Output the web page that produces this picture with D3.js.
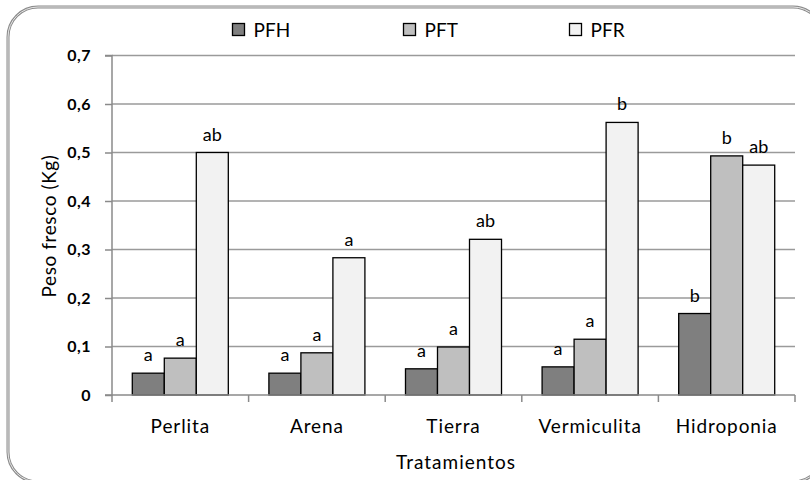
<!DOCTYPE html>
<html><head><meta charset="utf-8">
<script src="https://cdn.jsdelivr.net/npm/d3@7/dist/d3.min.js"></script>
<style>body{margin:0;background:#fff}svg{display:block;font-family:Lato,"Open Sans",sans-serif}</style>
</head><body><svg id="c" width="810" height="480"></svg>
<script>
const categories = ["Perlita","Arena","Tierra","Vermiculita","Hidroponia"];
const series = ["PFH","PFT","PFR"];
const PFH = [0.045,0.045,0.054,0.058,0.168];
const PFT = [0.076,0.087,0.099,0.115,0.493];
const PFR = [0.500,0.283,0.321,0.562,0.474];
const lettersPFH = ["a","a","a","a","b"];
const lettersPFT = ["a","a","a","a","b"];
const lettersPFR = ["ab","a","ab","b","ab"];
const yTicks = [0,0.1,0.2,0.3,0.4,0.5,0.6,0.7];
const yTickLabels = ["0","0,1","0,2","0,3","0,4","0,5","0,6","0,7"];
const colors = ["#7f7f7f","#bfbfbf","#f2f2f2"];

const values = [PFH,PFT,PFR];
const letters = [lettersPFH,lettersPFT,lettersPFR];
const svg = d3.select("#c");

// frame
svg.append("rect").attr("x",8).attr("y",7).attr("width",815).attr("height",475).attr("rx",30)
  .attr("fill","none").attr("stroke","#8a8a8a").attr("stroke-width",3);
svg.append("rect").attr("x",8).attr("y",7).attr("width",815).attr("height",475).attr("rx",30)
  .attr("fill","none").attr("stroke","#e8e8e8").attr("stroke-width",1);

const L=112,R=795,T=55.5,B=395;
const x = d3.scaleBand().domain(categories).range([L,R]).paddingInner(0).paddingOuter(0);
const xs = d3.scaleBand().domain(series).range([0,x.bandwidth()]).paddingInner(0).paddingOuter(0.634);
const y = d3.scaleLinear().domain([0,0.7]).range([B,T]);

const g = svg.append("g");
// grid
g.selectAll("line.grid").data(yTicks.slice(1)).join("line")
  .attr("x1",L).attr("x2",R).attr("y1",d=>y(d)).attr("y2",d=>y(d))
  .attr("stroke","#9a9a9a").attr("stroke-width",1.5);
// y axis
const yAxis = d3.axisLeft(y).tickValues(yTicks).tickFormat((d,i)=>yTickLabels[i]).tickSize(7).tickPadding(14);
const ya = svg.append("g").attr("transform",`translate(${L},0)`).call(yAxis);
ya.select(".domain").attr("stroke","#8a8a8a").attr("stroke-width",1.5).attr("d",`M-7,${T}H0V${B}H-7`);
ya.selectAll(".tick line").attr("stroke","#8a8a8a").attr("stroke-width",1.5);
ya.selectAll(".tick text").attr("font-size",16).attr("font-weight","bold").attr("fill","#000")
  .attr("font-family","Lato,sans-serif").attr("letter-spacing",0.5);

// bars
categories.forEach((c,ci)=>{
  series.forEach((s,si)=>{
    const v = values[si][ci];
    const bx = x(c)+xs(s);
    g.append("rect").attr("x",bx).attr("y",y(v)).attr("width",xs.bandwidth()).attr("height",B-y(v))
      .attr("fill",colors[si]).attr("stroke","#000").attr("stroke-width",1.3);
    g.append("text").attr("x",bx+xs.bandwidth()/2).attr("y",y(v)-12).attr("text-anchor","middle")
      .attr("font-size",18).attr("fill","#000").text(letters[si][ci]);
  });
});

// x axis
const xAxis = d3.axisBottom(x).tickSize(0).tickPadding(25);
const xa = svg.append("g").attr("transform",`translate(0,${B})`).call(xAxis);
xa.select(".domain").attr("stroke","#8a8a8a").attr("stroke-width",1.5).attr("d",`M${L},0H${R}`);
xa.selectAll(".tick text").attr("font-size",19).attr("fill","#000").attr("font-family","Lato,sans-serif").attr("letter-spacing",0.9);
const bounds = categories.map(c=>x(c)).concat([R]);
xa.selectAll("line.sep").data(bounds).join("line").attr("x1",d=>d).attr("x2",d=>d).attr("y1",0).attr("y2",7)
  .attr("stroke","#8a8a8a").attr("stroke-width",1.5);

// titles
svg.append("text").attr("x",456).attr("y",469).attr("text-anchor","middle").attr("font-size",19).attr("letter-spacing",1).text("Tratamientos");
svg.append("text").attr("transform","translate(56,226) rotate(-90)").attr("text-anchor","middle").attr("font-size",19).attr("letter-spacing",0.6).text("Peso fresco (Kg)");

// legend
const legX = [232.5,403.5,569.5];
series.forEach((s,i)=>{
  svg.append("rect").attr("x",legX[i]).attr("y",23.5).attr("width",12).attr("height",12)
    .attr("fill",colors[i]).attr("stroke","#000").attr("stroke-width",1.3);
  svg.append("text").attr("x",legX[i]+21).attr("y",36.5).attr("font-size",19).text(s);
});
</script></body></html>
